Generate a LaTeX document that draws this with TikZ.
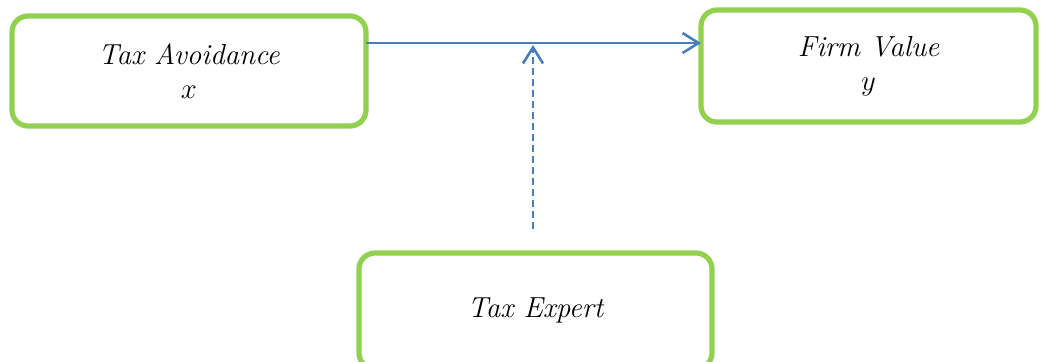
\documentclass[tikz,border=0pt]{standalone}
\usetikzlibrary{arrows.meta}
\definecolor{boxgreen}{HTML}{92D050}
\definecolor{linkblue}{HTML}{4A7EBB}
\tikzset{
  varbox/.style={draw=boxgreen, line width=2.6pt, rounded corners=8pt,
    fill=white, align=center, font=\fontsize{14.5}{17}\selectfont\itshape,
    inner sep=0pt, outer sep=0pt},
  link/.style={draw=linkblue, line width=1.4pt,
    -{Straight Barb[length=8pt,width=10pt,line width=1.3pt]}},
  moderator/.style={link, dash pattern=on 3.5pt off 2pt}
}
\begin{document}
\begin{tikzpicture}[x=0.5pt,y=-0.5pt]
  \useasboundingbox (0,0) rectangle (1047,361);
  \node[varbox, minimum width=177pt, minimum height=55pt] (A) at (189,71)
    {Tax Avoidance\\ $x$};
  \node[varbox, minimum width=167.5pt, minimum height=56pt] (B) at (868.5,66)
    {Firm Value\\ $y$};
  \node[varbox, minimum width=176.5pt, minimum height=58pt] (C) at (535.5,311)
    {\raisebox{3pt}{Tax Expert}};
  \coordinate (m) at (533,43);
  \draw[link] (A.east |- m) -- (B.west |- m);
  \draw[moderator] ([yshift=12pt]C.north -| m) -- ([yshift=-1pt]m);
\end{tikzpicture}
\end{document}
